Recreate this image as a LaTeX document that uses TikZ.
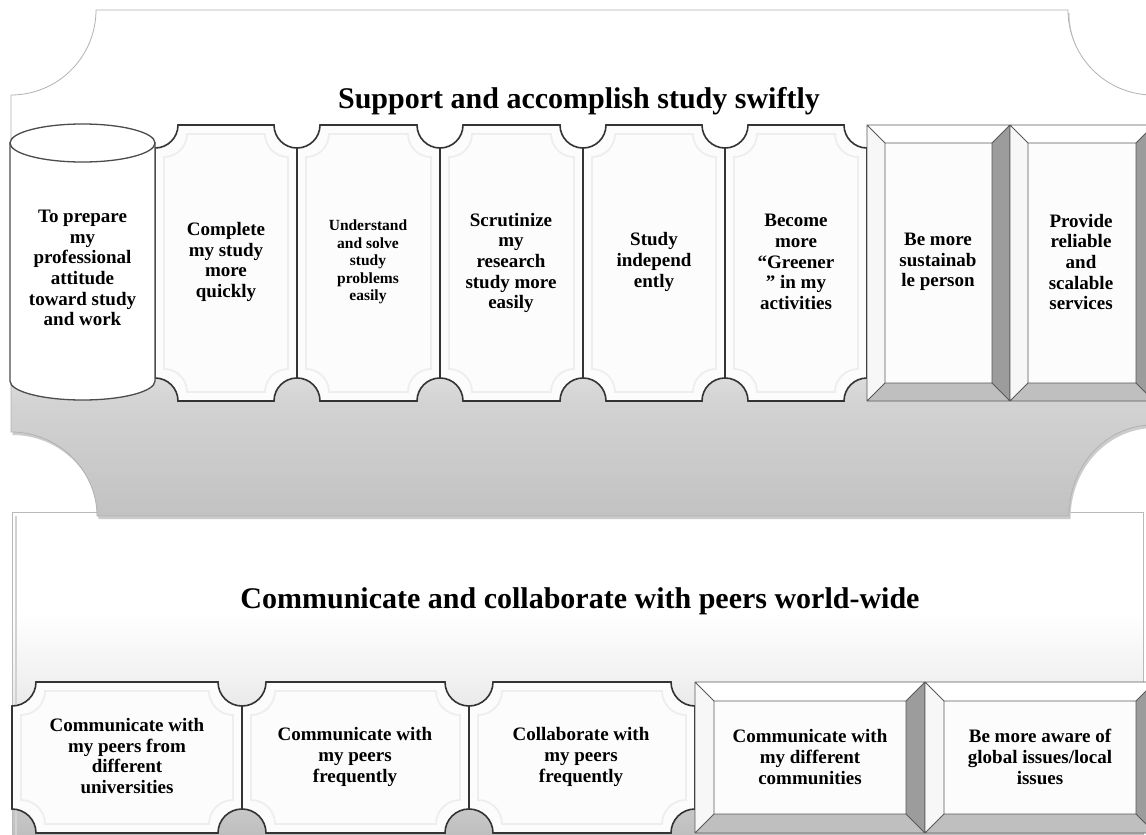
\documentclass[tikz,border=0pt]{standalone}
\usepackage{fontspec}
\setmainfont{Liberation Serif}
\pgfdeclareverticalshading{tpsh}{100bp}{color(0bp)=(gray!48); color(25bp)=(gray!48); color(36bp)=(gray!35); color(44bp)=(gray!14); color(51bp)=(gray!3); color(58bp)=(white); color(100bp)=(white)}
\pgfdeclareverticalshading{bpsh}{100bp}{color(0bp)=(gray!52); color(27bp)=(gray!50); color(38bp)=(gray!30); color(50bp)=(gray!11); color(60bp)=(white); color(100bp)=(white)}
% plaque (rectangle with concave corners): style, x1, y1, x2, y2, r
\newcommand\plq[6]{%
 \path[#1] ({#2+#6},#3) -- ({#4-#6},#3)
  .. controls ({#4-#6},{#3+0.552*#6}) and ({#4-0.552*#6},{#3+#6}) .. (#4,{#3+#6})
  -- (#4,{#5-#6})
  .. controls ({#4-0.552*#6},{#5-#6}) and ({#4-#6},{#5-0.552*#6}) .. ({#4-#6},#5)
  -- ({#2+#6},#5)
  .. controls ({#2+#6},{#5-0.552*#6}) and ({#2+0.552*#6},{#5-#6}) .. (#2,{#5-#6})
  -- (#2,{#3+#6})
  .. controls ({#2+0.552*#6},{#3+#6}) and ({#2+#6},{#3+0.552*#6}) .. ({#2+#6},#3)
  -- cycle;}
% upper panel outline
\newcommand\toppanel[1]{%
 \path[#1] (96,10) -- (1068,10)
  .. controls (1068,56.9) and (1106.1,95) .. (1153,95) -- (1153,425)
  .. controls (1106.6,425) and (1069,465) .. (1069,516) -- (97,516)
  .. controls (97,470) and (58.1,432) .. (11,432) -- (11,95)
  .. controls (57.9,95) and (96,56.9) .. (96,10) -- cycle;}
% puzzle tile: x1, y1, x2, y2, r
\newcommand\tile[5]{%
 \plq{tilebody}{#1}{#2}{#3}{#4}{#5}%
 \plq{tileinner}{#1+9}{#2+9}{#3-9}{#4-9}{#5}}
% bevelled box: x1, y1, x2, y2, bevel
\newcommand\bev[5]{%
 \fill[white] (#1,#2) -- (#3,#2) -- ({#3-#5},{#2+#5}) -- ({#1+#5},{#2+#5}) -- cycle;
 \fill[gray!6] (#1,#2) -- ({#1+#5},{#2+#5}) -- ({#1+#5},{#4-#5}) -- (#1,#4) -- cycle;
 \fill[gray!78] (#3,#2) -- (#3,#4) -- ({#3-#5},{#4-#5}) -- ({#3-#5},{#2+#5}) -- cycle;
 \fill[gray!50] (#1,#4) -- (#3,#4) -- ({#3-#5},{#4-#5}) -- ({#1+#5},{#4-#5}) -- cycle;
 \fill[gray!2] ({#1+#5},{#2+#5}) rectangle ({#3-#5},{#4-#5});
 \draw[bevline] (#1,#2) rectangle (#3,#4)
   ({#1+#5},{#2+#5}) rectangle ({#3-#5},{#4-#5})
   (#1,#2) -- ({#1+#5},{#2+#5}) (#3,#2) -- ({#3-#5},{#2+#5})
   (#1,#4) -- ({#1+#5},{#4-#5}) (#3,#4) -- ({#3-#5},{#4-#5});}
\tikzset{
 tilebody/.style={draw=black!80, line width=1.6pt, fill=gray!2},
 tileinner/.style={draw=gray!13, line width=1.8pt},
 bevline/.style={draw=black!65, line width=0.9pt},
 cyl/.style={draw=black!70, line width=1.3pt, fill=white},
 boxtext/.style={align=center, inner sep=0pt, font=\bfseries\fontsize{19}{20.7}\selectfont},
 smalltext/.style={align=center, inner sep=0pt, font=\bfseries\fontsize{15.5}{17.5}\selectfont},
 titletext/.style={inner sep=0pt, anchor=base, font=\bfseries\fontsize{30}{34}\selectfont}
}
\begin{document}
\begin{tikzpicture}[x=1pt,y=-1pt]
\useasboundingbox (0,0) rectangle (1146,835);
\fill[white] (0,0) rectangle (1146,835);
\begin{scope}
\clip (0,0) rectangle (1146,835);
% lower panel
\path[shading=bpsh, draw=gray!55, line width=0.8pt] (12,512) rectangle (1143,846);
\draw[gray!35, line width=1.2pt] (16,516) -- (16,846);
% upper panel shadow and body
\begin{scope}[shift={(1.5,3)}]
\toppanel{fill=gray!40}
\end{scope}
\toppanel{shading=tpsh, draw=gray!60, line width=0.8pt}
% top row tiles
\tile{155}{125}{297}{401}{23}
\tile{297}{125}{440}{401}{23}
\tile{440}{125}{583}{401}{23}
\tile{583}{125}{725}{401}{23}
\tile{725}{125}{867}{401}{23}
% cylinder
\path[cyl] (10,143) -- (10,381) .. controls (10,391.5) and (42.5,400) .. (82.5,400)
  .. controls (122.5,400) and (155,391.5) .. (155,381) -- (155,143) -- cycle;
\draw[cyl] (82.5,143) ellipse [x radius=72.5, y radius=19];
% top row bevelled boxes
\bev{867}{125}{1010}{401}{18}
\bev{1010}{125}{1154}{401}{18}
% bottom row tiles
\tile{12}{682}{242}{833}{24}
\tile{242}{682}{469}{833}{24}
\tile{469}{682}{695}{833}{24}
% bottom row bevelled boxes
\bev{695}{682}{925}{833}{19}
\bev{925}{682}{1155}{833}{19}
\end{scope}
% titles
\node[titletext] (title1) at (579,108) {Support and accomplish study swiftly};
\node[titletext] (title2) at (580,608) {Communicate and collaborate with peers world-wide};
% top row texts
\node[boxtext] (n1) at (82.5,268) {To prepare\\my\\professional\\attitude\\toward study\\and work};
\node[boxtext] (n2) at (226,262) {Complete\\my study\\more\\quickly};
\node[smalltext] (n3) at (368,262) {Understand\\and solve\\study\\problems\\easily};
\node[boxtext] (n4) at (511,263) {Scrutinize\\my\\research\\study more\\easily};
\node[boxtext] (n5) at (654,262) {Study\\independ\\ently};
\node[boxtext] (n6) at (796,262) {Become\\more\\“Greener\\” in my\\activities};
\node[boxtext] (n7) at (938,262) {Be more\\sustainab\\le person};
\node[boxtext] (n8) at (1081,262) {Provide\\reliable\\and\\scalable\\services};
% bottom row texts
\node[boxtext] (m1) at (127,756) {Communicate with\\my peers from\\different\\universities};
\node[boxtext] (m2) at (355,757) {Communicate with\\my peers\\frequently};
\node[boxtext] (m3) at (581,757) {Collaborate with\\my peers\\frequently};
\node[boxtext] (m4) at (810,757) {Communicate with\\my different\\communities};
\node[boxtext] (m5) at (1040,757) {Be more aware of\\global issues/local\\issues};
\end{tikzpicture}
\end{document}
